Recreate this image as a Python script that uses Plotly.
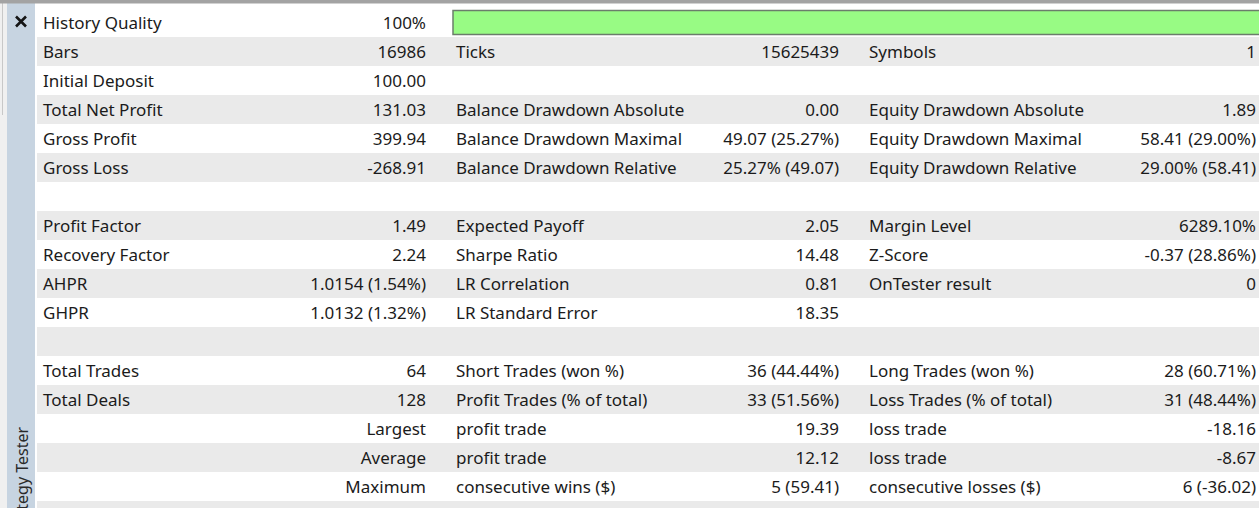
import plotly.graph_objects as go

# strategy tester report values, one entry per row (blank strings = empty cell)
labels_a = ["History Quality", "Bars", "Initial Deposit", "Total Net Profit", "Gross Profit", "Gross Loss", "",
            "Profit Factor", "Recovery Factor", "AHPR", "GHPR", "",
            "Total Trades", "Total Deals", "", "", ""]
values_a = ["100%", "16986", "100.00", "131.03", "399.94", "-268.91", "",
            "1.49", "2.24", "1.0154 (1.54%)", "1.0132 (1.32%)", "",
            "64", "128", "Largest", "Average", "Maximum"]
labels_b = ["", "Ticks", "", "Balance Drawdown Absolute", "Balance Drawdown Maximal", "Balance Drawdown Relative", "",
            "Expected Payoff", "Sharpe Ratio", "LR Correlation", "LR Standard Error", "",
            "Short Trades (won %)", "Profit Trades (% of total)", "profit trade", "profit trade", "consecutive wins ($)"]
values_b = ["", "15625439", "", "0.00", "49.07 (25.27%)", "25.27% (49.07)", "",
            "2.05", "14.48", "0.81", "18.35", "",
            "36 (44.44%)", "33 (51.56%)", "19.39", "12.12", "5 (59.41)"]
labels_c = ["", "Symbols", "", "Equity Drawdown Absolute", "Equity Drawdown Maximal", "Equity Drawdown Relative", "",
            "Margin Level", "Z-Score", "OnTester result", "", "",
            "Long Trades (won %)", "Loss Trades (% of total)", "loss trade", "loss trade", "consecutive losses ($)"]
values_c = ["", "1", "", "1.89", "58.41 (29.00%)", "29.00% (58.41)", "",
            "6289.10%", "-0.37 (28.86%)", "0", "", "",
            "28 (60.71%)", "31 (48.44%)", "-18.16", "-8.67", "6 (-36.02)"]
history_quality = 100

W, H = 1259, 508
ROW_H = 29
ROW0 = 22.5  # pixel centre of first row
n_rows = len(labels_a) + 1  # one partly visible row at the bottom
rows = list(range(n_rows))

FONT = "Noto Sans"
TXT = "#1b1b1b"

fig = go.Figure()

# alternating row backgrounds
fig.add_trace(go.Bar(
    y=rows, x=[W - 37] * n_rows, base=37, orientation="h", width=1,
    marker=dict(color=["#ffffff" if r % 2 == 0 else "#eaeaea" for r in rows], line=dict(width=0)),
    hoverinfo="skip", showlegend=False,
))

# history quality bar
full = W + 10 - 453
fig.add_trace(go.Bar(
    y=[0], x=[full * history_quality / 100], base=453, orientation="h", width=24 / ROW_H,
    marker=dict(color="#98fb84", line=dict(color="#6b7d6b", width=1.5)),
    hoverinfo="skip", showlegend=False,
))

# text sits a little below the row centre
text_rows = [r + 2 / ROW_H for r in rows[:-1]]


def add_col(texts, x, pos):
    fig.add_trace(go.Scatter(
        x=[x] * len(texts), y=text_rows, text=texts, mode="text", textposition=pos,
        textfont=dict(family=FONT, size=17, color=TXT),
        hoverinfo="skip", showlegend=False, cliponaxis=False,
    ))


add_col(labels_a, 43, "middle right")
add_col(values_a, 426, "middle left")
add_col(labels_b, 456, "middle right")
add_col(values_b, 839, "middle left")
add_col(labels_c, 869, "middle right")
add_col(values_c, 1256, "middle left")

y_top = (0 - ROW0) / ROW_H
y_bot = (H - ROW0) / ROW_H

fig.update_layout(
    width=W, height=H,
    margin=dict(l=0, r=0, t=0, b=0),
    paper_bgcolor="#ffffff", plot_bgcolor="#ffffff",
    barmode="overlay",
    xaxis=dict(range=[0, W], visible=False, fixedrange=True),
    yaxis=dict(range=[y_bot, y_top], visible=False, fixedrange=True),
    shapes=[
        # left strip and side panel
        dict(type="rect", xref="paper", yref="paper", x0=0, x1=7 / W, y0=0, y1=1,
             fillcolor="#f0f0f0", line_width=0, layer="above"),
        dict(type="line", xref="paper", yref="paper", x0=2.5 / W, x1=2.5 / W, y0=1 - 115 / H, y1=1,
             line=dict(color="#c8c8c8", width=1), layer="above"),
        dict(type="rect", xref="paper", yref="paper", x0=7 / W, x1=35 / W, y0=0, y1=1,
             fillcolor="#c7d4e1", line_width=0, layer="below"),
        # top border
        dict(type="rect", xref="paper", yref="paper", x0=0, x1=1, y0=1 - 3.5 / H, y1=1,
             fillcolor="#a3a3a3", line_width=0, layer="above"),
    ],
    annotations=[
        dict(text="Strategy Tester", textangle=-90, x=21 / W, y=1 - 425 / H,
             xref="paper", yref="paper", xanchor="center", yanchor="top",
             showarrow=False, font=dict(family=FONT, size=16, color="#2a2a2a")),
    ],
)

# close button on the side panel
fig.add_trace(go.Scatter(
    x=[21], y=[(21.5 - ROW0) / ROW_H], mode="markers",
    marker=dict(symbol="x-thin", size=10, line=dict(color="#151515", width=2.6)),
    hoverinfo="skip", showlegend=False, cliponaxis=False,
))

fig.write_html(
    "out.html",
    config={"displayModeBar": False, "staticPlot": True},
    post_script="document.body.style.margin='0';document.body.style.overflow='hidden';",
)
